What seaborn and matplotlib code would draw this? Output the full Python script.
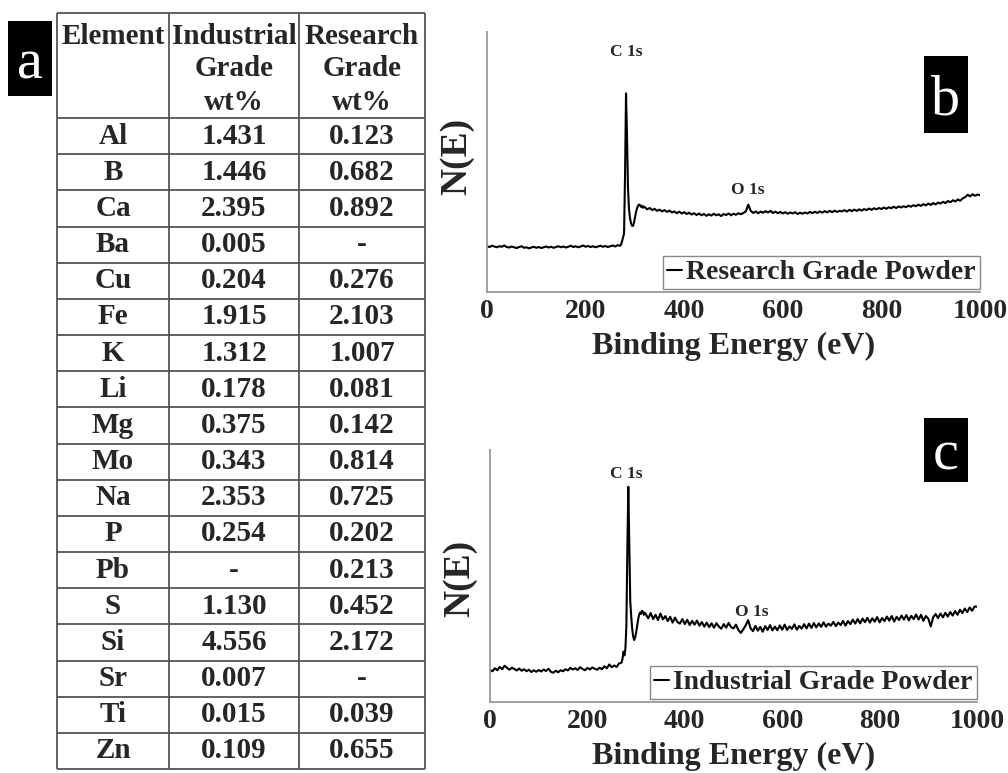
import numpy as np
import pandas as pd
import seaborn as sns
import matplotlib
matplotlib.use("Agg")
import matplotlib.pyplot as plt
from matplotlib.patches import Rectangle

# ---- composition table (wt%) ----
elements = ["Al", "B", "Ca", "Ba", "Cu", "Fe", "K", "Li", "Mg", "Mo",
            "Na", "P", "Pb", "S", "Si", "Sr", "Ti", "Zn"]
industrial_wt = [1.431, 1.446, 2.395, 0.005, 0.204, 1.915, 1.312, 0.178, 0.375,
                 0.343, 2.353, 0.254, None, 1.130, 4.556, 0.007, 0.015, 0.109]
research_wt = [0.123, 0.682, 0.892, None, 0.276, 2.103, 1.007, 0.081, 0.142,
               0.814, 0.725, 0.202, 0.213, 0.452, 2.172, None, 0.039, 0.655]
table_header = [["Element"], ["Industrial", "Grade", "wt%"], ["Research", "Grade", "wt%"]]

# ---- XPS survey spectra, N(E) in arbitrary units ----
energy_low = np.arange(0, 270, 5)       # eV
energy_peak = np.arange(270, 320, 2)    # eV, finer around C 1s
energy_high = np.arange(320, 1001, 5)   # eV

research_low = [17.6, 17.3, 17.8, 17.5, 17.2, 17.6, 17.4, 17.9, 17.3, 17.1,
                17.5, 17.2, 16.9, 17.3, 17.6, 17.0, 17.2, 16.8, 17.1, 17.4,
                17.0, 17.3, 16.9, 17.2, 17.5, 17.1, 17.4, 17.0, 17.3, 17.6,
                17.2, 17.5, 17.1, 17.4, 17.8, 17.3, 17.6, 17.2, 17.5, 17.9,
                17.4, 17.7, 17.3, 17.6, 17.2, 17.5, 17.8, 17.4, 17.7, 17.3,
                17.6, 17.9, 17.5, 18.0]
research_peak = [17.8, 18.3, 19.5, 21.0, 22.5, 45.0, 76.4, 60.0, 40.0, 32.0,
                 28.5, 26.5, 25.5, 25.4, 26.5, 28.5, 30.5, 32.0, 33.0, 33.6,
                 33.5, 32.8, 33.2, 32.4, 32.9]
research_high = [32.6, 31.8, 32.3, 31.5, 32.0, 31.2, 31.7, 31.0, 31.5, 30.8,
                 31.3, 30.6, 31.0, 30.3, 30.9, 30.2, 30.7, 30.0, 30.5, 29.8,
                 30.3, 29.6, 30.2, 29.5, 30.0, 29.3, 29.9, 29.4, 30.1, 29.5,
                 29.9, 29.2, 30.0, 29.6, 30.2, 29.5, 30.1, 29.7, 30.3, 29.9,
                 30.4, 31.0, 33.6, 31.2, 30.4, 31.0, 30.3, 30.9, 30.5, 31.1,
                 30.6, 31.2, 30.4, 30.9, 30.3, 30.8, 30.2, 30.7, 30.1, 30.6,
                 30.2, 30.7, 30.0, 30.5, 30.1, 30.6, 30.2, 30.8, 30.3, 30.9,
                 30.4, 31.0, 30.5, 31.1, 30.6, 31.2, 30.7, 31.3, 30.8, 31.2,
                 31.0, 31.5, 30.9, 31.6, 31.1, 31.7, 31.2, 31.8, 31.3, 31.9,
                 31.5, 32.1, 31.6, 32.2, 31.8, 32.3, 31.9, 32.5, 32.0, 32.6,
                 32.2, 32.8, 32.3, 32.9, 32.5, 33.0, 32.6, 33.2, 32.8, 33.4,
                 33.0, 33.6, 33.1, 33.8, 33.3, 34.0, 33.5, 34.2, 33.7, 34.4,
                 34.0, 34.7, 34.2, 35.0, 34.5, 35.3, 34.8, 35.6, 35.1, 36.0,
                 36.5, 37.4, 36.8, 37.6, 37.0, 37.5, 37.2]

industrial_low = [12.7, 12.2, 13.4, 12.6, 13.9, 13.0, 14.4, 13.5, 12.8, 13.6,
                  13.1, 12.5, 13.3, 12.4, 13.0, 12.2, 12.8, 11.9, 12.6, 12.0,
                  12.7, 12.1, 12.9, 12.3, 13.2, 12.0, 11.6, 12.4, 11.8, 12.6,
                  12.2, 13.0, 12.5, 13.6, 12.9, 13.4, 12.7, 13.8, 13.1, 12.6,
                  13.5, 12.9, 13.7, 13.2, 12.8, 13.6, 13.0, 14.2, 13.4, 14.9,
                  13.8, 14.5, 13.9, 15.3]
industrial_peak = [15.6, 17.0, 20.0, 18.5, 21.0, 30.0, 60.0, 85.4, 62.0, 40.0,
                   34.0, 29.0, 26.0, 24.6, 25.5, 27.5, 30.0, 32.5, 34.5, 35.5,
                   35.0, 36.2, 35.8, 34.6, 35.4]
industrial_high = [34.8, 33.2, 35.3, 32.9, 34.6, 32.5, 35.1, 32.8, 34.1, 32.1,
                   33.8, 31.5, 33.5, 31.7, 31.1, 32.9, 30.9, 32.6, 30.5, 32.2,
                   30.7, 32.3, 30.3, 31.7, 29.9, 31.5, 29.7, 31.2, 29.5, 31.3,
                   29.9, 29.1, 30.9, 29.5, 31.4, 29.7, 29.2, 30.7, 28.6, 27.4,
                   28.8, 30.4, 32.5, 29.3, 28.1, 30.2, 28.3, 29.8, 27.9, 30.1,
                   28.6, 30.5, 28.4, 29.9, 28.5, 30.4, 28.7, 30.7, 28.6, 30.0,
                   29.0, 30.8, 28.7, 30.2, 29.1, 30.9, 29.2, 31.1, 29.4, 31.3,
                   29.6, 31.2, 29.8, 31.6, 29.9, 31.1, 30.3, 31.8, 30.1, 31.5,
                   30.5, 32.2, 30.3, 32.1, 30.9, 32.7, 31.1, 32.9, 31.2, 33.1,
                   31.7, 33.4, 31.5, 33.2, 31.9, 33.7, 31.6, 33.3, 32.1, 33.9,
                   32.3, 34.1, 31.9, 33.8, 32.5, 34.3, 32.7, 34.5, 32.4, 34.2,
                   32.9, 34.7, 32.7, 34.6, 32.2, 34.1, 33.1, 30.0, 33.6, 34.9,
                   33.3, 35.1, 33.6, 35.4, 33.9, 35.7, 34.3, 36.1, 34.6, 36.6,
                   35.3, 37.1, 35.7, 37.5, 36.2, 37.9, 37.8]

energy = np.concatenate([energy_low, energy_peak, energy_high])
spectra = pd.DataFrame({
    "energy": energy,
    "research": research_low + research_peak + research_high,
    "industrial": industrial_low + industrial_peak + industrial_high,
})

sns.set_theme(style="white")
plt.rcParams["font.family"] = ["Liberation Serif", "DejaVu Serif"]
plt.rcParams["font.weight"] = "bold"
plt.rcParams["axes.labelweight"] = "bold"

W, H = 1008, 773
fig = plt.figure(figsize=(W / 100, H / 100), dpi=100)


def fig_rect(x0, y0, x1, y1):
    return [x0 / W, 1 - y1 / H, (x1 - x0) / W, (y1 - y0) / H]


def panel_letter(x0, y0, x1, y1, letter):
    fig.add_artist(Rectangle((x0 / W, 1 - y1 / H), (x1 - x0) / W, (y1 - y0) / H,
                             transform=fig.transFigure, facecolor="black",
                             edgecolor="none"))
    fig.text((x0 + x1) / 2 / W, 1 - (y0 + y1) / 2 / H, letter, color="white",
             fontsize=42, fontweight="normal", ha="center", va="center_baseline")


# ---- panel a: table ----
ax_t = fig.add_axes(fig_rect(57, 13, 425, 769))
ax_t.set_xlim(0, 368)
ax_t.set_ylim(756, 0)
ax_t.axis("off")
col_edges = [0, 112, 242, 368]
header_h = 105
row_h = (756 - header_h) / len(elements)
row_edges = [0, header_h] + [header_h + row_h * (i + 1) for i in range(len(elements))]
line_kw = dict(colors="#555555", linewidth=1.3, clip_on=False)
ax_t.vlines(col_edges, 0, 756, **line_kw)
ax_t.hlines(row_edges, 0, 368, **line_kw)
col_centers = [(col_edges[i] + col_edges[i + 1]) / 2 for i in range(3)]
tfs = 21
for cx, lines in zip(col_centers, table_header):
    for k, s in enumerate(lines):
        ax_t.text(cx, 23 + 33 * k, s, ha="center", va="center", fontsize=tfs)


def fmt(v):
    return "-" if v is None else f"{v:.3f}"


for i, (el, ind, res) in enumerate(zip(elements, industrial_wt, research_wt)):
    cy = header_h + row_h * (i + 0.5)
    for cx, s in zip(col_centers, [el, fmt(ind), fmt(res)]):
        ax_t.text(cx, cy, s, ha="center", va="center", fontsize=tfs)

panel_letter(8, 21, 52, 96, "a")


# ---- panels b and c: spectra ----
def spectrum_panel(rect, column, label, c_pos, o_pos, ylab_y):
    ax = fig.add_axes(rect)
    sns.lineplot(data=spectra, x="energy", y=column, ax=ax, color="black",
                 linewidth=1.5, label=label)
    ax.set_xlim(0, 1000)
    ax.set_ylim(0, 100)
    ax.set_yticks([])
    ax.set_xticks(range(0, 1001, 200))
    for side in ("top", "right"):
        ax.spines[side].set_visible(False)
    for side in ("left", "bottom"):
        ax.spines[side].set_color("#9a9a9a")
        ax.spines[side].set_linewidth(1.3)
    ax.tick_params(axis="x", direction="in", length=3, width=1, color="#9a9a9a",
                   labelsize=20, pad=5)
    for t in ax.get_xticklabels():
        t.set_fontweight("bold")
    ax.set_xlabel("Binding Energy (eV)", fontsize=23, fontweight="bold", labelpad=6)
    ax.set_ylabel("N(E)", fontsize=27, fontweight="bold")
    ax.yaxis.set_label_coords(-0.026, ylab_y)
    ax.text(c_pos[0], c_pos[1], "C 1s", ha="center", va="center", fontsize=12.5)
    ax.text(o_pos[0], o_pos[1], "O 1s", ha="center", va="center", fontsize=12.5)
    leg = ax.legend(loc="lower right", bbox_to_anchor=(1.0, 0.01), fontsize=20,
                    handlelength=0.55, handletextpad=0.15, borderpad=0.15,
                    borderaxespad=0.0, fancybox=False, framealpha=1,
                    edgecolor="#888888")
    leg.get_frame().set_linewidth(1.0)
    for t in leg.get_texts():
        t.set_fontweight("bold")
    return ax


spectrum_panel(fig_rect(487, 32, 980, 292), "research", "Research Grade Powder",
               (282, 92.3), (529, 39.2), 0.52)
spectrum_panel(fig_rect(490, 450, 977, 702), "industrial", "Industrial Grade Powder",
               (279, 90.5), (538, 35.7), 0.49)

panel_letter(924, 56, 968, 133, "b")
panel_letter(924, 418, 968, 482, "c")

fig.savefig("out.png", dpi=100, facecolor="white")
